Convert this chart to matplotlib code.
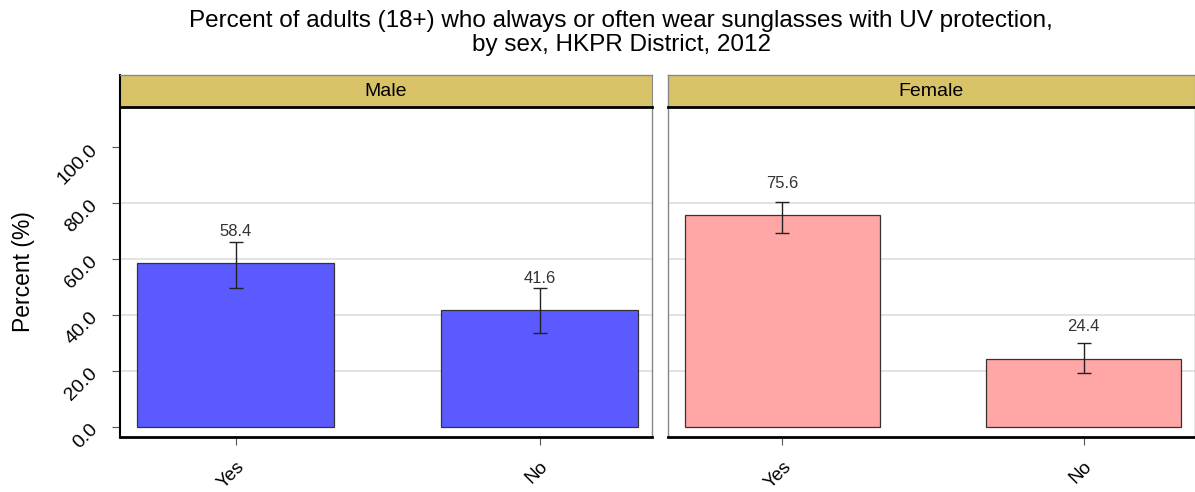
import matplotlib
matplotlib.use("Agg")
import matplotlib.pyplot as plt

plt.rcParams['font.family'] = ['Liberation Sans', 'DejaVu Sans']

panels = ["Male", "Female"]
categories = ["Yes", "No"]
values = {"Male": [58.4, 41.6], "Female": [75.6, 24.4]}
lower = {"Male": [49.6, 33.6], "Female": [69.3, 19.3]}
upper = {"Male": [66.1, 49.6], "Female": [80.4, 30.0]}
colors = {"Male": "#5A5AFF", "Female": "#FFA6A6"}
yticks = [0, 20, 40, 60, 80, 100]
title = ("Percent of adults (18+) who always or often wear sunglasses with UV protection,\n"
         "by sex, HKPR District, 2012")

fig = plt.figure(figsize=(11.95, 4.92), dpi=100)
W, H = 1195, 492

def rect(x0, y0, x1, y1):
    return [x0 / W, (H - y1) / H, (x1 - x0) / W, (y1 - y0) / H]

panel_px = {"Male": (120, 652), "Female": (668, 1195)}
for i, p in enumerate(panels):
    x0, x1 = panel_px[p]
    ax = fig.add_axes(rect(x0, 107, x1, 437))
    xs = [1, 2]
    vals = values[p]
    ax.bar(xs, vals, width=0.647, color=colors[p], edgecolor="#333333", linewidth=0.9, zorder=3)
    err_lo = [v - l for v, l in zip(vals, lower[p])]
    err_hi = [u - v for v, u in zip(vals, upper[p])]
    ax.errorbar(xs, vals, yerr=[err_lo, err_hi], fmt='none', ecolor="#222222",
                elinewidth=1.0, capsize=5, capthick=1.0, zorder=4)
    for x, v in zip(xs, vals):
        ax.text(x, v + 11.3, f"{v:.1f}", ha='center', va='center', fontsize=12, color="#333333", zorder=5)
    ax.set_xlim(0.62, 2.37)
    ax.set_ylim(-3.6, 114.3)
    for g in [20, 40, 60, 80]:
        ax.axhline(g, color="#DEDEDE", linewidth=1.2, zorder=1)
    ax.set_xticks(xs)
    ax.set_xticklabels(categories, rotation=45, ha='right', va='top', rotation_mode='anchor', fontsize=13.5)
    ax.tick_params(axis='x', length=6, color="#555555", pad=9)
    if i == 0:
        ax.set_yticks(yticks)
        ax.set_yticklabels([f"{t:.1f}" for t in yticks], rotation=45, ha='right', va='center',
                           rotation_mode='anchor', fontsize=14)
        ax.tick_params(axis='y', length=6, color="#555555", pad=12)
        ax.set_ylabel("Percent (%)", fontsize=16.5, labelpad=14)
        ax.spines['left'].set_color('black')
        ax.spines['left'].set_linewidth(1.5)
    else:
        ax.set_yticks([])
        ax.spines['left'].set_color('#888888')
        ax.spines['left'].set_linewidth(1.0)
    ax.spines['right'].set_color('#888888')
    ax.spines['right'].set_linewidth(1.0)
    ax.spines['top'].set_visible(False)
    ax.spines['bottom'].set_color('black')
    ax.spines['bottom'].set_linewidth(2.0)

    sax = fig.add_axes(rect(x0, 75, x1, 107))
    sax.set_facecolor("#D9C368")
    sax.set_xticks([]); sax.set_yticks([])
    sax.spines['top'].set_color('#888888')
    sax.spines['top'].set_linewidth(1.0)
    sax.spines['bottom'].set_color('black')
    sax.spines['bottom'].set_linewidth(2.0)
    sax.spines['left'].set_color('black' if i == 0 else '#888888')
    sax.spines['left'].set_linewidth(1.5 if i == 0 else 1.0)
    sax.spines['right'].set_color('#888888')
    sax.text(0.5, 0.5, p, ha='center', va='center', fontsize=14, transform=sax.transAxes)

fig.text(621 / W, 1 - 10 / H, title, ha='center', va='top', fontsize=17.5, linespacing=1.12)

fig.savefig("out.png", dpi=100)
